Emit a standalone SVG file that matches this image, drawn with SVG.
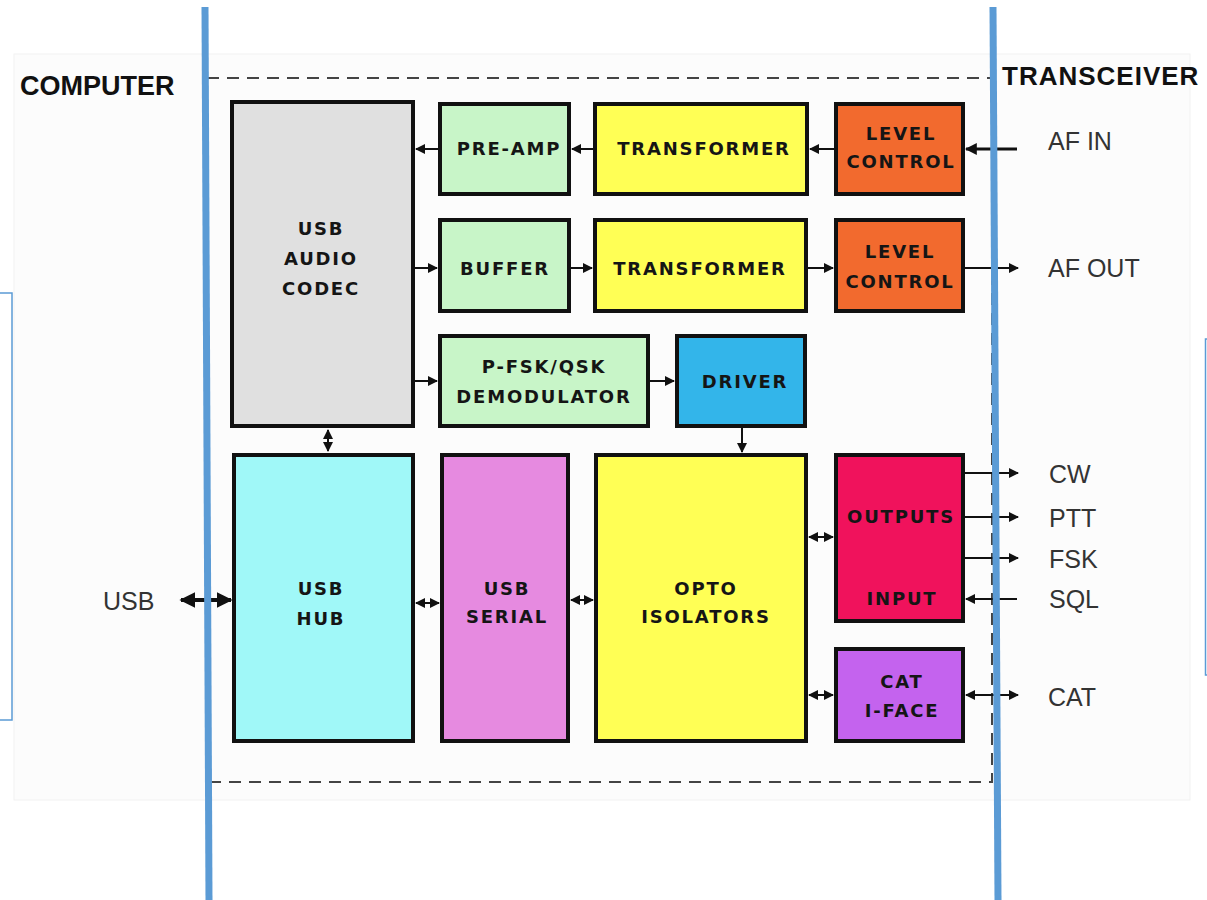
<svg xmlns="http://www.w3.org/2000/svg" width="1207" height="900" viewBox="0 0 1207 900">
<defs>
<style>
.box{stroke:#111;stroke-width:4}
.bl{font-family:"DejaVu Sans","Liberation Sans",Arial,sans-serif;font-weight:bold;font-size:18px;letter-spacing:1.8px;text-anchor:middle;fill:#151515}
.side{font-family:"Liberation Sans",Arial,sans-serif;font-size:25px;fill:#333}
.hdr{font-family:"Liberation Sans",Arial,sans-serif;font-weight:bold;fill:#111}
.c{stroke:#111;stroke-width:2;fill:none}
.blue{stroke:#5b9bd5;fill:none}
</style>
<marker id="ah" viewBox="0 0 10 10" refX="9" refY="5" markerWidth="5" markerHeight="5" orient="auto-start-reverse">
<path d="M0,0 L10,5 L0,10 z" fill="#111"/>
</marker>
<marker id="ahb" viewBox="0 0 10 10" refX="9" refY="5" markerWidth="4" markerHeight="4" orient="auto-start-reverse">
<path d="M0,0 L10,5 L0,10 z" fill="#111"/>
</marker>
</defs>
<rect width="1207" height="900" fill="#fff"/>
<rect x="14" y="54" width="1176" height="746" fill="#fcfcfc" stroke="#f2f2f2" stroke-width="1"/>

<!-- thin blue frames -->
<rect class="blue" x="-2" y="293" width="14" height="427" stroke-width="1.5"/>
<rect class="blue" x="1205.5" y="339" width="10" height="336" stroke-width="1.5"/>

<!-- dashed enclosure -->
<path d="M207,78 H992 V782 H207" fill="none" stroke="#444" stroke-width="2" stroke-dasharray="12,8"/>

<text class="hdr" x="20" y="95" font-size="27">COMPUTER</text>
<text class="hdr" x="1002" y="85" font-size="26" letter-spacing="1">TRANSCEIVER</text>

<g id="codec"><rect class="box" x="232" y="102" width="181" height="324" fill="#e0e0e0"/>
<text class="bl" x="321" y="235">USB</text><text class="bl" x="321" y="265">AUDIO</text><text class="bl" x="321" y="295">CODEC</text></g>
<g id="preamp"><rect class="box" x="440" y="104" width="129" height="90" fill="#c8f5c8"/><text class="bl" x="509" y="155">PRE-AMP</text></g>
<g id="transformer1"><rect class="box" x="595" y="104" width="212" height="90" fill="#ffff55"/><text class="bl" x="704" y="155">TRANSFORMER</text></g>
<g id="level1"><rect class="box" x="836" y="104" width="127" height="90" fill="#f26a2e"/><text class="bl" x="901" y="140" fill="#3a0c00">LEVEL</text><text class="bl" x="901" y="168" fill="#3a0c00">CONTROL</text></g>
<g id="buffer"><rect class="box" x="440" y="220" width="129" height="91" fill="#c8f5c8"/><text class="bl" x="505" y="275">BUFFER</text></g>
<g id="transformer2"><rect class="box" x="595" y="220" width="211" height="91" fill="#ffff55"/><text class="bl" x="700" y="275">TRANSFORMER</text></g>
<g id="level2"><rect class="box" x="836" y="220" width="127" height="91" fill="#f26a2e"/><text class="bl" x="900" y="258" fill="#3a0c00">LEVEL</text><text class="bl" x="900" y="288" fill="#3a0c00">CONTROL</text></g>
<g id="demod"><rect class="box" x="440" y="336" width="208" height="90" fill="#c8f5c8"/><text class="bl" x="544" y="373">P-FSK/QSK</text><text class="bl" x="544" y="403">DEMODULATOR</text></g>
<g id="driver"><rect class="box" x="677" y="336" width="128" height="90" fill="#33b5ea"/><text class="bl" x="745" y="388" fill="#0a2238">DRIVER</text></g>
<g id="hub"><rect class="box" x="234" y="455" width="179" height="286" fill="#a0f8f8"/><text class="bl" x="321" y="595">USB</text><text class="bl" x="321" y="625">HUB</text></g>
<g id="serial"><rect class="box" x="442" y="455" width="126" height="286" fill="#e68ae0"/><text class="bl" x="507" y="595" fill="#2a0a2a">USB</text><text class="bl" x="507" y="623" fill="#2a0a2a">SERIAL</text></g>
<g id="opto"><rect class="box" x="596" y="455" width="210" height="286" fill="#ffff55"/><text class="bl" x="706" y="595">OPTO</text><text class="bl" x="706" y="623">ISOLATORS</text></g>
<g id="outputs"><rect class="box" x="836" y="455" width="127" height="166" fill="#f0125c"/><text class="bl" x="901" y="523" fill="#4a0024">OUTPUTS</text><text class="bl" x="902" y="605" fill="#4a0024">INPUT</text></g>
<g id="cat"><rect class="box" x="836" y="649" width="127" height="92" fill="#c463ee"/><text class="bl" x="902" y="688" fill="#2a0038">CAT</text><text class="bl" x="902" y="717" fill="#2a0038">I-FACE</text></g>

<g id="connectors">
<line class="c" x1="1017" y1="149" x2="966" y2="149" style="stroke-width:3" marker-end="url(#ahb)"/>
<line class="c" x1="834" y1="149" x2="810" y2="149" marker-end="url(#ah)"/>
<line class="c" x1="593" y1="149" x2="572" y2="149" marker-end="url(#ah)"/>
<line class="c" x1="438" y1="149" x2="416" y2="149" marker-end="url(#ah)"/>
<line class="c" x1="415" y1="268" x2="437" y2="268" marker-end="url(#ah)"/>
<line class="c" x1="570" y1="268" x2="592" y2="268" marker-end="url(#ah)"/>
<line class="c" x1="808" y1="268" x2="833" y2="268" marker-end="url(#ah)"/>
<line class="c" x1="965" y1="268" x2="1018" y2="268" marker-end="url(#ah)"/>
<line class="c" x1="415" y1="381" x2="437" y2="381" marker-end="url(#ah)"/>
<line class="c" x1="650" y1="381" x2="674" y2="381" marker-end="url(#ah)"/>
<line class="c" x1="742" y1="428" x2="742" y2="452" marker-end="url(#ah)"/>
<line class="c" x1="328" y1="430" x2="328" y2="451" marker-start="url(#ah)" marker-end="url(#ah)"/>
<line class="c" x1="181" y1="600" x2="231" y2="600" style="stroke-width:4" marker-start="url(#ahb)" marker-end="url(#ahb)"/>
<line class="c" x1="416" y1="603" x2="439" y2="603" marker-start="url(#ah)" marker-end="url(#ah)"/>
<line class="c" x1="571" y1="600" x2="593" y2="600" marker-start="url(#ah)" marker-end="url(#ah)"/>
<line class="c" x1="809" y1="537" x2="833" y2="537" marker-start="url(#ah)" marker-end="url(#ah)"/>
<line class="c" x1="809" y1="695" x2="833" y2="695" marker-start="url(#ah)" marker-end="url(#ah)"/>
<line class="c" x1="965" y1="473" x2="1018" y2="473" marker-end="url(#ah)"/>
<line class="c" x1="965" y1="517" x2="1018" y2="517" marker-end="url(#ah)"/>
<line class="c" x1="965" y1="558" x2="1018" y2="558" marker-end="url(#ah)"/>
<line class="c" x1="1017" y1="599" x2="966" y2="599" marker-end="url(#ah)"/>
<line class="c" x1="966" y1="695" x2="1018" y2="695" marker-start="url(#ah)" marker-end="url(#ah)"/>
</g>

<text class="side" x="1048" y="150">AF IN</text>
<text class="side" x="1048" y="277">AF OUT</text>
<text class="side" x="1049" y="483">CW</text>
<text class="side" x="1049" y="527">PTT</text>
<text class="side" x="1049" y="568">FSK</text>
<text class="side" x="1049" y="608">SQL</text>
<text class="side" x="1048" y="706">CAT</text>
<text class="side" x="103" y="610">USB</text>

<!-- thick blue verticals -->
<line class="blue" x1="205" y1="7" x2="209" y2="900" stroke-width="7"/>
<line class="blue" x1="993" y1="7" x2="998" y2="900" stroke-width="7"/>
</svg>
